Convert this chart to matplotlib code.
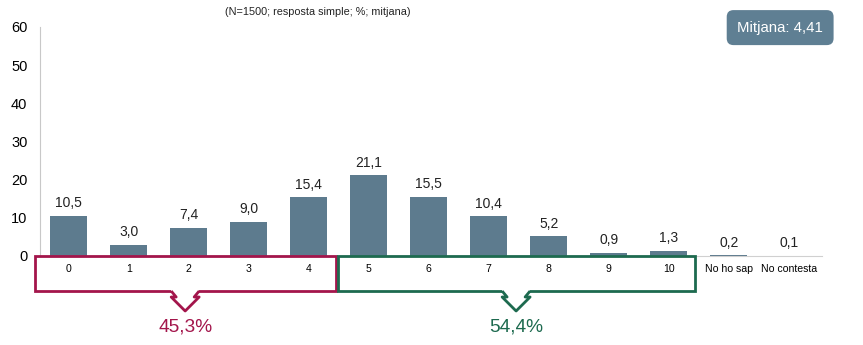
import matplotlib.pyplot as plt
from matplotlib.patches import Rectangle, Polygon

plt.rcParams['font.family'] = ['Liberation Sans', 'DejaVu Sans']

# Valoració 0-10 i no resposta
categories = ['0', '1', '2', '3', '4', '5', '6', '7', '8', '9', '10',
              'No ho sap', 'No contesta']
values = [10.5, 3.0, 7.4, 9.0, 15.4, 21.1, 15.5, 10.4, 5.2, 0.9, 1.3, 0.2, 0.1]
groups = [('45,3%', 0, 4), ('54,4%', 5, 10)]
mean_text = 'Mitjana: 4,41'
subtitle = '(N=1500; resposta simple; %; mitjana)'

bar_col = '#5d7b8e'
group_cols = ['#a3154b', '#1d6a4f']

fig = plt.figure(figsize=(8.63, 3.45), dpi=100)
ax = fig.add_axes([0.0463, 0.258, 0.906, 0.664])

x = list(range(len(categories)))
ax.bar(x, values, width=0.62, color=bar_col, zorder=2)
for xi, v in zip(x, values):
    ax.annotate(f'{v:.1f}'.replace('.', ','), (xi, v), xytext=(0, 4),
                textcoords='offset points', ha='center', va='bottom',
                fontsize=10, color='#222222')

ax.set_xlim(-0.48, 12.55)
ax.set_ylim(0, 60)
ax.set_yticks(range(0, 61, 10))
ax.set_xticks(x)
ax.set_xticklabels(categories, fontsize=7.6)
ax.tick_params(axis='x', length=0, pad=6)
ax.tick_params(axis='y', length=0, pad=9, labelsize=10.5)
for s in ['top', 'right']:
    ax.spines[s].set_visible(False)
ax.spines['left'].set_color('#c8c8c8')
ax.spines['bottom'].set_color('#d0d0d0')

# pixel -> data scale factors for the frames below the axis
px = 1 / 60.0
sy = 60 / 229.0
box_bot = -35 * sy
for (label, a, b), col in zip(groups, group_cols):
    left = a - 0.57 + (0.05 if a else 0)
    right = b + 0.45 - (0.02 if a else 0)
    ax.add_patch(Rectangle((left, box_bot), right - left, -box_bot, fill=False,
                           edgecolor=col, lw=2, clip_on=False, zorder=3))
    cx = (left + right) / 2
    y0 = box_bot
    y1 = box_bot - 6 * sy
    ytip = box_bot - 20 * sy
    # white gap in the frame where the arrow starts
    ax.add_patch(Rectangle((cx - 14 * px, y0 - 0.5), 28 * px, 1.0,
                           facecolor='white', edgecolor='none', clip_on=False,
                           zorder=4))
    pts = [(cx - 14 * px, y0), (cx - 9 * px, y1), (cx - 14 * px, y1),
           (cx, ytip), (cx + 14 * px, y1), (cx + 9 * px, y1),
           (cx + 14 * px, y0)]
    ax.add_patch(Polygon(pts, closed=False, fill=False, edgecolor=col, lw=2,
                         clip_on=False, zorder=5, joinstyle='round'))
    ax.text(cx, ytip - 7 * sy, label, ha='center', va='top', fontsize=13.8,
            color=col)

fig.text(0.368, 0.966, subtitle, ha='center', va='center', fontsize=7.8,
         color='#222222')
fig.text(0.904, 0.920, mean_text, ha='center', va='center', fontsize=10.8,
         color='white',
         bbox=dict(boxstyle='round,pad=0.7,rounding_size=0.45',
                   facecolor='#5f7f93', edgecolor='none'))

fig.savefig('out.png', dpi=100)
